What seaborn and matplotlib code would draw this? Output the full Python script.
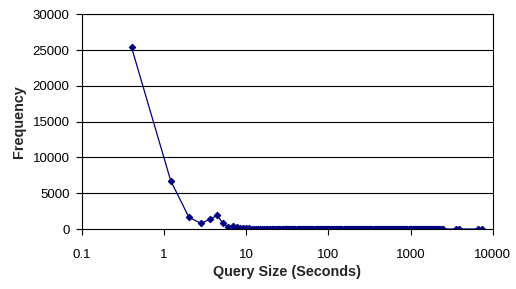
import pandas as pd
import matplotlib
matplotlib.use("Agg")
import matplotlib.pyplot as plt
from matplotlib.ticker import FixedLocator, NullLocator
import seaborn as sns

# bin centres (seconds) and counts
head_x = [0.4, 1.2, 2.0, 2.8, 3.6, 4.4, 5.2, 6.0, 6.8, 7.6, 8.4, 9.2,
          10.0, 10.8, 11.6, 12.4, 13.2, 14.0, 14.8, 15.6]
head_y = [25400, 6750, 1630, 800, 1350, 1910, 800, 320, 420, 220, 150, 120,
          90, 80, 60, 55, 50, 40, 35, 30]

# long tail: counts are all close to zero
tail_x = [16.4, 17.2, 18.0, 18.8, 19.6, 20.4, 21.2, 22.0, 22.8, 23.6,
          24.4, 25.2, 26.0, 26.8, 27.6, 28.4, 29.2, 30.0, 30.8, 31.6,
          32.4, 33.2, 34.4, 35.6, 36.4, 37.2, 38.4, 39.6, 40.8, 42.0,
          43.2, 44.4, 46.0, 47.6, 48.8, 50.0, 51.6, 53.2, 54.8, 56.4,
          58.4, 60.4, 62.0, 63.6, 65.6, 67.6, 69.6, 71.6, 73.6, 75.6,
          78.0, 80.4, 82.8, 85.2, 87.6, 90.0, 92.8, 95.6, 98.4, 101.2,
          104.4, 107.6, 110.4, 113.2, 116.8, 120.4, 124.0, 127.6, 131.6, 135.6,
          139.6, 143.6, 148.0, 152.4, 156.8, 161.2, 166.0, 170.8, 176.0, 181.2,
          186.8, 192.4, 198.0, 203.6, 210.0, 216.4, 222.4, 228.4, 235.6, 242.8,
          249.6, 256.4, 264.4, 272.4, 280.4, 288.4, 296.4, 305.2, 314.4, 323.6,
          333.2, 342.8, 353.2, 363.6, 374.4, 385.2, 396.8, 408.4, 420.4, 432.4,
          445.2, 458.0, 471.6, 485.2, 499.6, 514.0, 529.2, 544.4, 560.4, 576.4,
          594.0, 611.6, 629.6, 647.6, 666.8, 686.0, 706.4, 726.8, 748.4, 770.0,
          792.8, 815.6, 840.0, 864.4, 890.0, 915.6, 942.8, 970.0, 998.8, 1027.6,
          1058.0, 1088.4, 1120.8, 1153.2, 1187.2, 1221.2, 1257.6, 1294.0, 1332.4, 1370.8,
          1411.6, 1452.4, 1495.6, 1538.8, 1584.4, 1630.0, 1678.4, 1726.8, 1778.0, 1829.2,
          1883.6, 1937.6, 1995.2, 2052.4, 2113.2, 2174.0, 2238.8, 2303.6, 2376.4, 2449.2,
          3600.4, 3900.4, 6700.4, 7400.4]
tail_y = [28, 28, 27, 26, 25, 25, 24, 23, 22, 22,
          21, 20, 20, 19, 18, 18, 17, 16, 16, 15,
          15, 14, 14, 13, 13, 12, 12, 11, 11, 10,
          10, 10, 9, 9, 9, 8, 8, 8, 7, 7,
          7, 7, 6, 6, 6, 6, 6, 5, 5, 5,
          5, 5, 5, 5, 4, 4, 4, 4, 4, 4,
          4, 4, 4, 3, 3, 3, 3, 3, 3, 3,
          3, 3, 3, 3, 3, 3, 3, 3, 2, 2,
          2, 2, 2, 2, 2, 2, 2, 2, 2, 2,
          2, 2, 2, 2, 2, 2, 2, 2, 2, 2,
          2, 2, 2, 2, 2, 1, 1, 1, 1, 1,
          1, 1, 1, 1, 1, 1, 1, 1, 1, 1,
          1, 1, 1, 1, 1, 1, 1, 1, 1, 1,
          1, 1, 1, 1, 1, 1, 1, 1, 1, 1,
          1, 1, 1, 1, 1, 1, 1, 1, 1, 1,
          1, 1, 1, 1, 1, 1, 1, 1, 1, 1,
          1, 1, 1, 1, 1, 1, 1, 1, 1, 1,
          1, 1, 1, 1]

df = pd.DataFrame({"size": head_x + tail_x, "freq": head_y + tail_y})

y_ticks = [0, 5000, 10000, 15000, 20000, 25000, 30000]
x_ticks = [0.1, 1, 10, 100, 1000, 10000]
x_labels = ["0.1", "1", "10", "100", "1000", "10000"]

sns.set_style("white")
plt.rcParams["font.family"] = ["Liberation Sans", "DejaVu Sans"]

fig = plt.figure(figsize=(5.16, 2.89), dpi=100)
ax = fig.add_axes([0.159, 0.2076, 0.796, 0.743])

sns.lineplot(data=df, x="size", y="freq", ax=ax, color="#000080",
             linewidth=0.9, marker="D", markersize=3.3,
             markeredgecolor="#000080", markerfacecolor="#000080",
             errorbar=None, estimator=None)

ax.set_xscale("log")
ax.set_xlim(0.1, 10000)
ax.set_ylim(0, 30000)
ax.xaxis.set_major_locator(FixedLocator(x_ticks))
ax.xaxis.set_minor_locator(NullLocator())
ax.set_xticklabels(x_labels)
ax.set_yticks(y_ticks)

for y in y_ticks[1:]:
    ax.axhline(y, color="black", linewidth=0.8, zorder=0)

for s in ax.spines.values():
    s.set_visible(True)
    s.set_color("black")
    s.set_linewidth(0.8)

ax.tick_params(axis="both", which="major", direction="out", length=4,
               width=0.8, color="black", labelsize=9.5, labelcolor="black",
               bottom=True, left=True)
ax.tick_params(axis="x", pad=10.5)
ax.tick_params(axis="y", pad=5)

ax.set_xlabel("Query Size (Seconds)", fontsize=10.4, fontweight="bold", labelpad=3)
ax.set_ylabel("Frequency", fontsize=10.4, fontweight="bold", labelpad=5)

fig.savefig("out.png", dpi=100)
plt.close(fig)
